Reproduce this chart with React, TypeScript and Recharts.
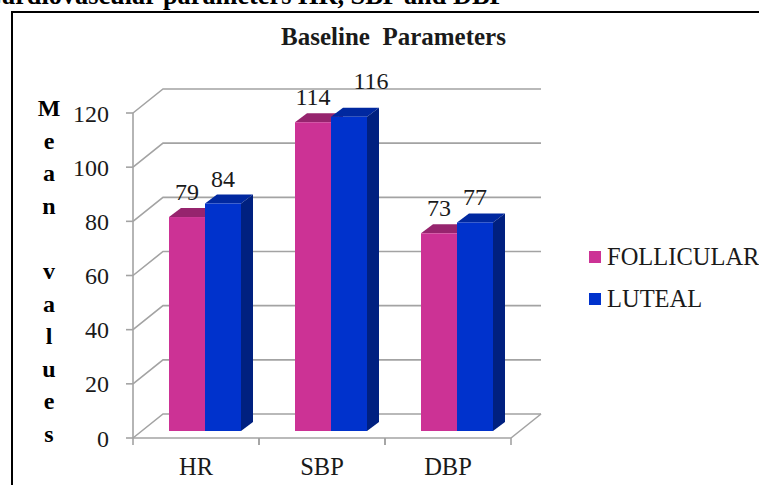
import { BarChart, Bar, XAxis, YAxis, CartesianGrid, Legend, LabelList } from 'recharts'

const categories = ['HR', 'SBP', 'DBP']
const follicular = [79, 114, 73]
const luteal = [84, 116, 77]
const yTicks = [0, 20, 40, 60, 80, 100, 120]
const yAxisLetters = ['M', 'e', 'a', 'n', ' ', 'v', 'a', 'l', 'u', 'e', 's']

const data = categories.map((name, i) => ({
    name,
    FOLLICULAR: follicular[i],
    LUTEAL: luteal[i],
}))

const serif = '"Liberation Serif", serif'
const gridColor = '#a3a3a3'
// how far the back wall sits from the front of the plot
const wallX = 30
const wallY = 24
// how far the bars stand in from the front of the floor
const standX = 9
const standY = 7
// depth of each bar
const depthX = 12
const depthY = 9

const Bar3D = (props: any) => {
    const { x, y, width, height, fill, topFill, sideFill } = props
    const l = x + standX
    const r = l + width
    const t = y - standY
    const b = t + height
    return (
        <g>
            <polygon points={`${l},${t} ${l + depthX},${t - depthY} ${r + depthX},${t - depthY} ${r},${t}`} fill={topFill} />
            <polygon points={`${r},${t} ${r + depthX},${t - depthY} ${r + depthX},${b - depthY} ${r},${b}`} fill={sideFill} />
            <rect x={l} y={t} width={width} height={height} fill={fill} />
        </g>
    )
}

const WallLine = (props: any) => {
    const { x1, x2, y1, index } = props
    const backY = y1 - wallY
    return (
        <g key={index}>
            <polyline
                points={`${x1},${y1} ${x1 + wallX},${backY} ${x2 + wallX},${backY}`}
                fill="none"
                stroke={gridColor}
                strokeWidth={1.6}
            />
            {y1 > 430 && (
                <line x1={x2} y1={y1} x2={x2 + wallX} y2={backY} stroke={gridColor} strokeWidth={1.6} />
            )}
        </g>
    )
}

const XTick = (props: any) => {
    const { x, y, payload } = props
    const half = 63
    return (
        <g>
            <line x1={x - half} y1={y - 8} x2={x - half} y2={y - 1} stroke={gridColor} strokeWidth={1.6} />
            <line x1={x + half} y1={y - 8} x2={x + half} y2={y - 1} stroke={gridColor} strokeWidth={1.6} />
            <text x={x} y={y + 29} textAnchor="middle" fontFamily={serif} fontSize={24.5} fill="#1a1a1a">
                {payload.value}
            </text>
        </g>
    )
}

const ValueLabel = (props: any) => {
    const { x, y, width, value } = props
    // the 116 label was dragged clear of the bar in the original
    const moved = value === 116
    return (
        <text
            x={x + width / 2 + standX + (moved ? 22 : 0)}
            y={y - 24 - (moved ? 11 : 0)}
            textAnchor="middle"
            fontFamily={serif}
            fontSize={24}
            fill="#1a1a1a"
        >
            {value}
        </text>
    )
}

const YLetters = () => (
    <text fontFamily={serif} fontSize={24} fontWeight="bold" textAnchor="middle" fill="#000">
        {yAxisLetters.map((c, i) => (
            <tspan key={i} x={49} y={116 + i * 32.6}>
                {c}
            </tspan>
        ))}
    </text>
)

const LegendBox = (props: any) => (
    <div style={{ fontFamily: serif, fontSize: 24.5, color: '#1a1a1a', whiteSpace: 'nowrap' }}>
        {(props.payload || []).map((p: any) => (
            <div key={p.value} style={{ display: 'flex', alignItems: 'center', height: 42 }}>
                <span style={{ width: 12, height: 12, background: p.color, marginRight: 6, flex: 'none' }} />
                {p.value}
            </div>
        ))}
    </div>
)

export default function App() {
    return (
        <div style={{ position: 'absolute', left: 0, top: 0, width: 759, height: 485, overflow: 'hidden', background: '#fff' }}>
            <div
                style={{
                    position: 'absolute',
                    left: -17,
                    top: -19,
                    whiteSpace: 'nowrap',
                    fontFamily: serif,
                    fontWeight: 'bold',
                    fontSize: 26.3,
                    color: '#000',
                }}
            >
                Cardiovascular parameters HR, SBP and DBP
            </div>
            <div
                style={{
                    position: 'absolute',
                    left: 11,
                    top: 11,
                    width: 800,
                    height: 600,
                    border: '2px solid #000',
                }}
            />
            <div
                style={{
                    position: 'absolute',
                    left: 281,
                    top: 23,
                    whiteSpace: 'pre',
                    fontFamily: serif,
                    fontWeight: 'bold',
                    fontSize: 25,
                    lineHeight: '28px',
                    color: '#1a1a1a',
                }}
            >
                Baseline  Parameters
            </div>
            <BarChart
                width={759}
                height={485}
                data={data}
                barSize={36}
                barGap={0}
                margin={{ top: 113, right: 78, left: 33, bottom: 17 }}
                style={{ position: 'absolute', left: 0, top: 0 }}
            >
                <CartesianGrid vertical={false} horizontal={WallLine} />
                <XAxis
                    dataKey="name"
                    height={30}
                    tick={XTick}
                    tickLine={false}
                    axisLine={{ stroke: gridColor, strokeWidth: 1.6 }}
                    interval={0}
                />
                <YAxis
                    width={100}
                    domain={[0, 120]}
                    ticks={yTicks}
                    interval={0}
                    tickSize={7}
                    tickMargin={17}
                    tick={{ fontFamily: serif, fontSize: 24, fill: '#1a1a1a' }}
                    tickLine={{ stroke: gridColor, strokeWidth: 1.6 }}
                    axisLine={{ stroke: gridColor, strokeWidth: 1.6 }}
                    label={{ content: YLetters }}
                />
                <Legend
                    layout="vertical"
                    align="right"
                    verticalAlign="top"
                    content={LegendBox}
                    wrapperStyle={{ left: 589, top: 236, width: 170 }}
                />
                <Bar
                    dataKey="FOLLICULAR"
                    fill="#cc3295"
                    isAnimationActive={false}
                    shape={(p: any) => <Bar3D {...p} topFill="#96246e" sideFill="#7a1c5a" />}
                >
                    <LabelList dataKey="FOLLICULAR" content={ValueLabel} />
                </Bar>
                <Bar
                    dataKey="LUTEAL"
                    fill="#0032cc"
                    isAnimationActive={false}
                    shape={(p: any) => <Bar3D {...p} topFill="#0028a0" sideFill="#002080" />}
                >
                    <LabelList dataKey="LUTEAL" content={ValueLabel} />
                </Bar>
            </BarChart>
        </div>
    )
}
